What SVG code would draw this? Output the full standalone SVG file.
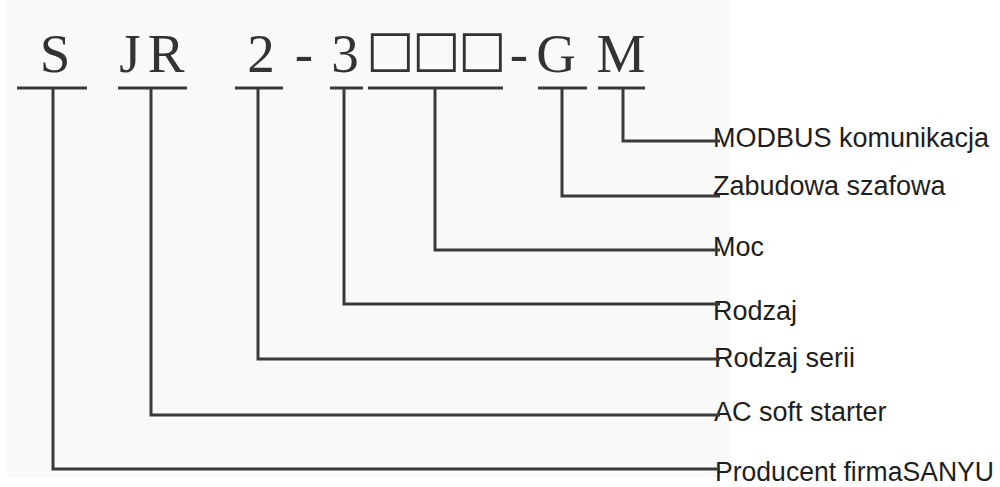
<svg xmlns="http://www.w3.org/2000/svg" width="1000" height="487" viewBox="0 0 1000 487">
<style>
.code{font-family:"Liberation Serif","Times New Roman",serif;font-size:55px;fill:#333;text-anchor:middle}
.box{font-family:"DejaVu Sans",sans-serif;font-size:51px;fill:#333;text-anchor:middle}
.lbl{font-family:"Liberation Sans",Arial,sans-serif;font-size:27px;fill:#1e1e1e}
.ln{stroke:#3a3a3a;stroke-width:3;fill:none}
</style>
<rect width="1000" height="487" fill="#ffffff"/>
<rect x="7" y="0" width="723" height="477" fill="#f9f9f9"/>
<g id="code">
<text class="code" x="55" y="72">S</text>
<text class="code" x="130" y="72">J</text>
<text class="code" x="166" y="72">R</text>
<text class="code" x="261" y="72">2</text>
<text class="code" x="304" y="72">-</text>
<text class="code" x="345" y="72">3</text>
<text class="box" x="390" y="66">□</text>
<text class="box" x="436" y="66">□</text>
<text class="box" x="482" y="66">□</text>
<text class="code" x="519" y="72">-</text>
<text class="code" x="556" y="72">G</text>
<text class="code" x="621" y="72">M</text>
</g>
<g id="n-modbus"><text class="lbl" x="713" y="147">MODBUS komunikacja</text></g>
<g id="n-zabudowa"><text class="lbl" x="713" y="195">Zabudowa szafowa</text></g>
<g id="n-moc"><text class="lbl" x="713" y="256">Moc</text></g>
<g id="n-rodzaj"><text class="lbl" x="713" y="320">Rodzaj</text></g>
<g id="n-serii"><text class="lbl" x="714" y="367">Rodzaj serii</text></g>
<g id="n-ac"><text class="lbl" x="714" y="421">AC soft starter</text></g>
<g id="n-producent"><text class="lbl" x="715" y="481" textLength="279" lengthAdjust="spacingAndGlyphs">Producent firmaSANYU</text></g>
<g id="connectors">
<path class="ln" d="M17 88H87M53 88V469H720"/>
<path class="ln" d="M118 88H187M151 88V415H720"/>
<path class="ln" d="M235 88H283M258 88V359H720"/>
<path class="ln" d="M330 88H363M344 88V304H720"/>
<path class="ln" d="M368 88H503M435 88V250H720"/>
<path class="ln" d="M538 88H587M562 88V196H720"/>
<path class="ln" d="M598 88H645M623 88V141H720"/>
</g>
</svg>
